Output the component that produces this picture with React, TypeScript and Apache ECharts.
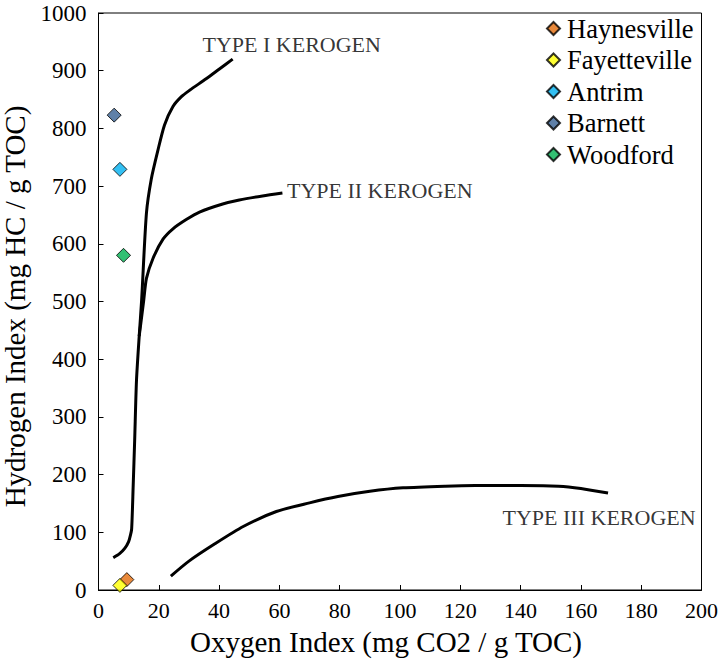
import React, { useEffect, useRef } from "react";
import * as echarts from "echarts";

const FONT = '"Liberation Serif", "Times New Roman", serif';

const sampleNames = ["Haynesville", "Fayetteville", "Antrim", "Barnett", "Woodford"];
const sampleColors = ["#E46C0A", "#FFFF00", "#00B0F0", "#376092", "#00B050"];
const oxygenIndex = [9.4, 7.1, 7.1, 5.2, 8.3];
const hydrogenIndex = [18, 8, 729, 823, 580];

const typeICurve = [
  [4.9, 56], [7, 63], [8.7, 72], [10, 84], [10.6, 95], [11, 106], [11.5, 180],
  [12, 260], [12.6, 363], [13.5, 440], [14.3, 502], [15.9, 653], [17.5, 712],
  [19.7, 762], [21.9, 806], [24.7, 838], [27.5, 855], [30.2, 866], [35.7, 886],
  [40.1, 903], [44.5, 920],
];
const typeIICurve = [
  [13.5, 440], [15, 502], [15.9, 540], [18.1, 575], [21.4, 608], [24.7, 626],
  [29.1, 642], [33.5, 655], [41.2, 669], [46.7, 676], [54.4, 683], [61, 688],
];
const typeIIICurve = [
  [24, 24], [30, 50], [38.6, 80], [48, 110], [59, 136], [70, 151], [79.4, 162],
  [90, 171], [101, 177], [115, 180], [125, 181], [140, 181], [152.6, 180],
  [160, 176], [169, 168],
];
const curveLabels = ["TYPE I KEROGEN", "TYPE II KEROGEN", "TYPE III KEROGEN"];
const labelAnchors = [[34.5, 946], [62.5, 692], [134, 126]];

const xTicks = { min: 0, max: 200, interval: 20 };
const yTicks = { min: 0, max: 1000, interval: 100 };

export default function App() {
  const ref = useRef<HTMLDivElement>(null);
  useEffect(() => {
    if (!ref.current) return;
    const chart = echarts.init(ref.current, null, { renderer: "svg" });
    const lineStyle = { color: "#000", width: 3 };
    const curves = [typeICurve, typeIICurve, typeIIICurve].map((c, i) => ({
      name: "curve" + i,
      type: "line",
      data: c,
      smooth: 0.25,
      showSymbol: false,
      symbol: "none",
      lineStyle,
      silent: true,
      z: 2,
    }));
    const scatters = sampleNames.map((n, i) => ({
      name: n,
      type: "scatter",
      data: [[oxygenIndex[i], hydrogenIndex[i]]],
      symbol: "diamond",
      symbolSize: 14,
      itemStyle: { color: sampleColors[i], borderColor: "#000", borderWidth: 1 },
      z: 3,
    }));
    const labels = {
      name: "labels",
      type: "scatter",
      symbolSize: 0,
      silent: true,
      data: labelAnchors.map((p, i) => ({ value: p, name: curveLabels[i] })),
      label: {
        show: true,
        position: "right",
        distance: 0,
        formatter: (p: any) => p.name,
        color: "#000",
        fontFamily: FONT,
        fontSize: 22,
      },
      z: 4,
    };
    chart.setOption({
      animation: false,
      backgroundColor: "#fff",
      grid: {
        left: 98.5, right: 16.5, top: 13, bottom: 76,
        outerBoundsMode: "none",
        containLabel: false,
        show: true, borderColor: "#000", borderWidth: 1, backgroundColor: "transparent",
      },
      legend: {
        data: sampleNames.map((n) => ({ name: n, icon: "diamond" })),
        orient: "vertical",
        left: 541,
        top: 10,
        itemWidth: 13,
        itemHeight: 13,
        itemGap: 4.5,
        textStyle: { fontFamily: FONT, fontSize: 26.5, color: "#000", lineHeight: 26.5, padding: [0, 0, 0, 2] },
      },
      xAxis: {
        type: "value",
        ...xTicks,
        name: "Oxygen Index (mg CO2 / g TOC)",
        nameLocation: "middle",
        nameGap: 37,
        nameTextStyle: { fontFamily: FONT, fontSize: 29, color: "#000", padding: [0, 28, 0, 0] },
        axisLine: { show: true, lineStyle: { color: "#000", width: 1 } },
        axisTick: { show: true, inside: true, length: 5, lineStyle: { color: "#000" } },
        axisLabel: { fontFamily: FONT, fontSize: 22, color: "#000", margin: 9, hideOverlap: false },
        splitLine: { show: false },
      },
      yAxis: {
        type: "value",
        ...yTicks,
        name: "Hydrogen Index (mg HC / g TOC)",
        nameLocation: "middle",
        nameGap: 62,
        nameTextStyle: { fontFamily: FONT, fontSize: 29, color: "#000", padding: [0, 10, 0, 0] },
        axisLine: { show: true, lineStyle: { color: "#000", width: 1 } },
        axisTick: { show: true, inside: true, length: 5, lineStyle: { color: "#000" } },
        axisLabel: {
          fontFamily: FONT, fontSize: 23, color: "#000", margin: 12,
          formatter: (v: number) => String(v),
        },
        splitLine: { show: false },
      },
      series: [...curves, ...scatters, labels],
    });
    return () => chart.dispose();
  }, []);
  return (
    <div
      ref={ref}
      style={{ position: "fixed", left: 0, top: 0, width: 718, height: 666, background: "#fff" }}
    />
  );
}
